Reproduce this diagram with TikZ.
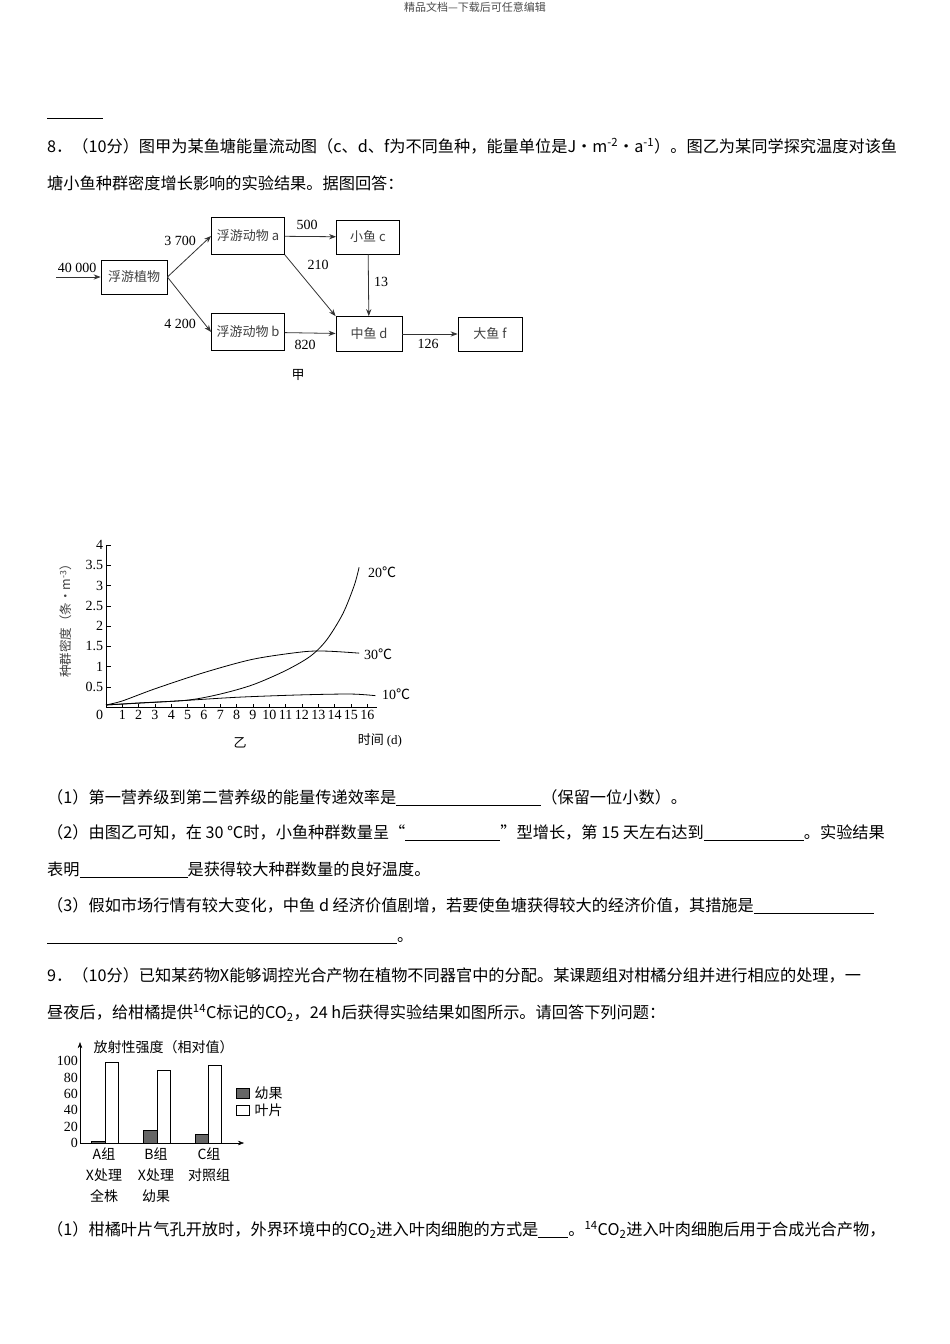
\documentclass[tikz,border=0pt]{standalone}
\usepackage{fontspec}
\setmainfont{Noto Sans CJK SC}
\newfontfamily\ser{Liberation Serif}
\usetikzlibrary{arrows.meta}
\newcommand{\blank}[1]{\underline{\hspace{#1pt}}}
\newcommand{\degc}{{\normalfont ℃}}
\begin{document}
\begin{tikzpicture}[x=1pt,y=-1pt,
  bx/.style={draw,thick,minimum height=34pt,inner sep=2pt,font=\fontsize{13}{13}\selectfont,text=black!75},
  ar/.style={-{Stealth[length=7pt]},thick,black!80},
  num/.style={font=\ser\fontsize{14}{14}\selectfont},
  ln/.style={anchor=west,inner sep=0pt,font=\fontsize{16.2}{17}\selectfont},
  tk/.style={font=\ser\fontsize{14}{14}\selectfont,inner sep=1pt}]
\useasboundingbox (0,0) rectangle (950,1344);
\fill[white] (0,0) rectangle (950,1344);
\node[font=\fontsize{11}{11}\selectfont,text=black!70] (hd) at (475,7) {精品文档---下载后可任意编辑};
\draw (47,118) -- (103,118);
\node[ln] (l1) at (47,146) {8．（10分）图甲为某鱼塘能量流动图（c、d、f为不同鱼种，能量单位是J·m\textsuperscript{-2}·a\textsuperscript{-1}）。图乙为某同学探究温度对该鱼};
\node[ln] (l2) at (47,183) {塘小鱼种群密度增长影响的实验结果。据图回答：};
% flow
\node[bx,minimum width=66pt] (p) at (134,277) {浮游植物};
\node[bx,minimum width=73pt,minimum height=37pt] (a) at (248,236) {浮游动物 a};
\node[bx,minimum width=63pt] (c) at (368,237) {小鱼 c};
\node[bx,minimum width=73pt,minimum height=37pt] (b) at (248,332) {浮游动物 b};
\node[bx,minimum width=66pt,minimum height=35pt] (d) at (369,334) {中鱼 d};
\node[bx,minimum width=64pt] (f) at (490,334) {大鱼 f};
\coordinate (in) at (56,277);
\draw[ar] (in) -- (p);
\draw[ar] (p.east) -- (a.west);
\draw[ar] (p.east) -- (b.west);
\draw[ar] (a) -- (c);
\draw[ar] (a.south east) -- (d.north west);
\draw[ar] (c) -- (d);
\draw[ar] (b) -- (d);
\draw[ar] (d) -- (f);
\node[num] (t1) at (77,268) {40 000};
\node[num] (t2) at (180,241) {3 700};
\node[num] (t3) at (180,324) {4 200};
\node[num] (t4) at (307,225) {500};
\node[num] (t5) at (318,265) {210};
\node[num] (t6) at (381,282) {13};
\node[num] (t7) at (305,345) {820};
\node[num] (t8) at (428,344) {126};
\node[font=\fontsize{13}{13}\selectfont] (jia) at (298,375) {甲};
% graph
\begin{scope}[shift={(106,707)},x=16.33pt,y=40.5pt]
\draw[thick] (0,4) -- (0,0) -- (16.6,0);
\foreach \v/\l in {0.5/0.5,1/1,1.5/1.5,2/2,2.5/2.5,3/3,3.5/3.5,4/4} {\draw (0,\v) -- (0.3,\v); \node[tk,anchor=east] at (-0.1,\v) {\l};}
\foreach \t in {1,...,16} {\draw (\t,0) -- (\t,0.08); \node[tk,anchor=north] at (\t,-0.05) {\t};}
\node[tk,anchor=north east] at (-0.1,-0.05) {0};
\draw[thick] plot[smooth] coordinates {(0,0.05) (2,0.1) (5,0.17) (7,0.32) (9,0.55) (11,0.9) (12.5,1.25) (13.5,1.65) (14.5,2.3) (15.2,3) (15.5,3.45)};
\draw[thick] plot[smooth] coordinates {(0,0.05) (1,0.15) (3,0.45) (6,0.85) (9,1.18) (12,1.36) (13.5,1.38) (15.5,1.33)};
\draw[thick] plot[smooth] coordinates {(0,0.05) (4,0.14) (8,0.24) (12,0.3) (15,0.32) (16.5,0.28)};
\end{scope}
\node[font=\ser\fontsize{14}{14}\selectfont] (c20) at (382,572) {20\degc};
\node[font=\ser\fontsize{14}{14}\selectfont] (c30) at (378,654) {30\degc};
\node[font=\ser\fontsize{14}{14}\selectfont] (c10) at (396,694) {10\degc};
\node[rotate=90,font=\fontsize{12.5}{13}\selectfont,text=black!75] (yl) at (66,618) {种群密度（条·m\textsuperscript{-3}）};
\node[font=\fontsize{13}{13}\selectfont] (yi) at (240,743) {乙};
\node[font=\fontsize{13}{13}\selectfont] (tm) at (380,740) {时间 {\ser(d)}};
% questions
\node[ln] (q1) at (47,798) {（1）第一营养级到第二营养级的能量传递效率是\blank{145}（保留一位小数）。};
\node[ln] (q2) at (47,833) {（2）由图乙可知，在 30 ℃时，小鱼种群数量呈“\blank{95}”型增长，第 15 天左右达到\blank{100}。实验结果};
\node[ln] (q3) at (47,870) {表明\blank{108}是获得较大种群数量的良好温度。};
\node[ln] (q4) at (47,906) {（3）假如市场行情有较大变化，中鱼 d 经济价值剧增，若要使鱼塘获得较大的经济价值，其措施是\blank{120}};
\node[ln] (q5) at (47,941) {\blank{350}。};
\node[ln] (q6) at (47,975) {9．（10分）已知某药物X能够调控光合产物在植物不同器官中的分配。某课题组对柑橘分组并进行相应的处理，一};
\node[ln] (q7) at (47,1013) {昼夜后，给柑橘提供\textsuperscript{14}C标记的CO\textsubscript{2}，24 h后获得实验结果如图所示。请回答下列问题：};
% bar chart
\begin{scope}[shift={(80,1143)},y=0.82pt]
\draw[-{Stealth[length=6pt]}] (0,0) -- (0,123);
\draw[-{Stealth[length=6pt]}] (0,0) -- (164,0);
\foreach \v in {0,20,40,60,80,100} \node[tk,anchor=east] at (-1,\v) {\v};
\fill[black!60,draw=black,thick] (11,0) rectangle (25,2);
\draw[thick] (25,0) rectangle (38,98);
\fill[black!60,draw=black,thick] (63,0) rectangle (77,15);
\draw[thick] (77,0) rectangle (90,88);
\fill[black!60,draw=black,thick] (115,0) rectangle (128,11);
\draw[thick] (128,0) rectangle (141,95);
\end{scope}
\node[anchor=west,font=\fontsize{14}{14}\selectfont] (bt) at (90,1047) {放射性强度（相对值）};
\fill[black!60,draw=black,thick] (236,1088) rectangle (249,1098);
\node[anchor=west,font=\fontsize{14}{14}\selectfont] (lg1) at (251,1093) {幼果};
\draw[thick] (236,1105) rectangle (249,1115);
\node[anchor=west,font=\fontsize{14}{14}\selectfont] (lg2) at (251,1110) {叶片};
\foreach \x/\a/\b/\c in {104/A组/X处理/全株,156/B组/X处理/幼果,209/C组/对照组/{}} {
  \node[font=\fontsize{14}{14}\selectfont] at (\x,1154) {\a};
  \node[font=\fontsize{14}{14}\selectfont] at (\x,1175) {\b};
  \node[font=\fontsize{14}{14}\selectfont] at (\x,1196) {\c};
}
\node[ln] (q8) at (47,1230) {（1）柑橘叶片气孔开放时，外界环境中的CO\textsubscript{2}进入叶肉细胞的方式是\blank{30}。\textsuperscript{14}CO\textsubscript{2}进入叶肉细胞后用于合成光合产物，};
\end{tikzpicture}
\end{document}
